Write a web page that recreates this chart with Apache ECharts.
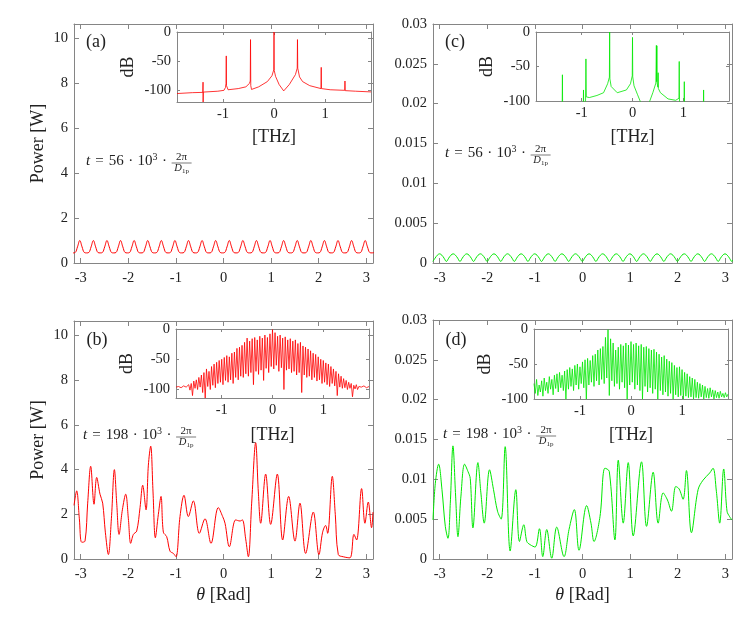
<!DOCTYPE html>
<html><head><meta charset="utf-8">
<script src="https://cdn.jsdelivr.net/npm/echarts@6/dist/echarts.min.js"></script>
<style>html,body{margin:0;padding:0;background:#fff}#c{width:747px;height:629px}</style>
</head><body><div id="c"></div>
<script>
// ---------------- tick labels ----------------
const THETA_TICKS = [-3, -2, -1, 0, 1, 2, 3];
const POWER_TICKS = [0, 2, 4, 6, 8, 10];
const POWER2_TICKS = [0, 0.005, 0.01, 0.015, 0.02, 0.025, 0.03];
const THZ_TICKS = [-1, 0, 1];
const DB_TICKS = [-100, -50, 0];

// ---------------- panel (a): power vs theta (sampled from theta = -3.163, step 0.0476) ----------------
const thetaStartA = -3.163, thetaStepA = 0.0476;
const powerA = [
0.45,0.47,0.72,1.00,0.72,0.47, 0.45,0.47,0.72,1.00,0.72,0.47, 0.45,0.47,0.72,1.00,0.72,0.47,
0.45,0.47,0.72,1.00,0.72,0.47, 0.45,0.47,0.72,1.00,0.72,0.47, 0.45,0.47,0.72,1.00,0.72,0.47,
0.45,0.47,0.72,1.00,0.72,0.47, 0.45,0.47,0.72,1.00,0.72,0.47, 0.45,0.47,0.72,1.00,0.72,0.47,
0.45,0.47,0.72,1.00,0.72,0.47, 0.45,0.47,0.72,1.00,0.72,0.47, 0.45,0.47,0.72,1.00,0.72,0.47,
0.45,0.47,0.72,1.00,0.72,0.47, 0.45,0.47,0.72,1.00,0.72,0.47, 0.45,0.47,0.72,1.00,0.72,0.47,
0.45,0.47,0.72,1.00,0.72,0.47, 0.45,0.47,0.72,1.00,0.72,0.47, 0.45,0.47,0.72,1.00,0.72,0.47,
0.45,0.47,0.72,1.00,0.72,0.47, 0.45,0.47,0.72,1.00,0.72,0.47, 0.45,0.47,0.72,1.00,0.72,0.47,
0.45,0.47,0.72,1.00,0.72,0.47, 0.45,0.47];

// ---------------- panel (c): power vs theta (sampled from theta = -3.146, step 0.0476) ----------------
const thetaStartC = -3.146, thetaStepC = 0.0476;
const powerC = [
0.0002,0.0006,0.00098,0.00115,0.00098,0.0006, 0.0002,0.0006,0.00098,0.00115,0.00098,0.0006,
0.0002,0.0006,0.00098,0.00115,0.00098,0.0006, 0.0002,0.0006,0.00098,0.00115,0.00098,0.0006,
0.0002,0.0006,0.00098,0.00115,0.00098,0.0006, 0.0002,0.0006,0.00098,0.00115,0.00098,0.0006,
0.0002,0.0006,0.00098,0.00115,0.00098,0.0006, 0.0002,0.0006,0.00098,0.00115,0.00098,0.0006,
0.0002,0.0006,0.00098,0.00115,0.00098,0.0006, 0.0002,0.0006,0.00098,0.00115,0.00098,0.0006,
0.0002,0.0006,0.00098,0.00115,0.00098,0.0006, 0.0002,0.0006,0.00098,0.00115,0.00098,0.0006,
0.0002,0.0006,0.00098,0.00115,0.00098,0.0006, 0.0002,0.0006,0.00098,0.00115,0.00098,0.0006,
0.0002,0.0006,0.00098,0.00115,0.00098,0.0006, 0.0002,0.0006,0.00098,0.00115,0.00098,0.0006,
0.0002,0.0006,0.00098,0.00115,0.00098,0.0006, 0.0002,0.0006,0.00098,0.00115,0.00098,0.0006,
0.0002,0.0006,0.00098,0.00115,0.00098,0.0006, 0.0002,0.0006,0.00098,0.00115,0.00098,0.0006,
0.0002,0.0006,0.00098,0.00115,0.00098,0.0006, 0.0002,0.0006,0.00098,0.00115,0.00098,0.0006,
0.0002,0.0006];

// ---------------- panel (b): [theta, power W] ----------------
const powerB = [[-3.1416,2.4],[-3.085,3.05],[-3.029,1.8],[-2.98,0.75],[-2.91,0.8],[-2.854,2.5],[-2.791,4.15],[-2.721,2.45],[-2.665,3.65],[-2.595,2.9],[-2.539,2.5],[-2.483,1.2],[-2.419,0.2],[-2.356,1.8],[-2.293,4.0],[-2.244,2.5],[-2.195,1.1],[-2.125,2.2],[-2.055,2.9],[-1.999,1.8],[-1.95,0.7],[-1.894,1.1],[-1.824,1.25],[-1.754,2.3],[-1.698,3.3],[-1.628,2.2],[-1.579,4.2],[-1.53,5.05],[-1.481,3.0],[-1.432,0.95],[-1.369,2.0],[-1.313,2.8],[-1.264,1.2],[-1.194,1.0],[-1.124,0.35],[-1.054,0.25],[-0.998,0.1],[-0.914,1.9],[-0.83,2.85],[-0.739,1.9],[-0.634,2.6],[-0.508,1.15],[-0.389,1.8],[-0.263,0.7],[-0.109,2.3],[-0.018,1.9],[0.032,1.6],[0.123,0.55],[0.256,1.75],[0.347,1.7],[0.396,1.75],[0.466,0.9],[0.522,0.1],[0.592,2.5],[0.676,5.2],[0.732,3.0],[0.781,1.6],[0.886,3.8],[0.991,1.55],[1.131,3.8],[1.243,0.85],[1.369,2.8],[1.502,0.8],[1.607,2.5],[1.726,0.25],[1.887,2.1],[2.006,0.2],[2.083,1.2],[2.146,1.5],[2.188,1.15],[2.286,3.7],[2.349,2.0],[2.412,0.2],[2.517,0.1],[2.657,0.05],[2.741,1.1],[2.797,0.85],[2.902,3.15],[2.972,1.6],[3.042,2.55],[3.112,1.4],[3.1416,2.1]];

// ---------------- panel (d): [theta, power W] ----------------
const powerD = [[-3.1416,0.0049],[-3.0927,0.0095],[-3.0228,0.0119],[-2.9529,0.0087],[-2.883,0.0041],[-2.8271,0.0026],[-2.7782,0.007],[-2.7223,0.0142],[-2.6663,0.0079],[-2.6174,0.0028],[-2.5545,0.0079],[-2.4776,0.0119],[-2.4078,0.011],[-2.3588,0.0101],[-2.3029,0.0039],[-2.1981,0.0121],[-2.1352,0.0083],[-2.0653,0.0045],[-1.9535,0.0112],[-1.8696,0.0087],[-1.7857,0.006],[-1.7089,0.005],[-1.625,0.0141],[-1.5202,0.001],[-1.4013,0.0087],[-1.3245,0.0022],[-1.2336,0.0043],[-1.1707,0.0022],[-1.1008,0.0018],[-0.996,0.0015],[-0.9051,0.0038],[-0.8352,0.0003],[-0.7514,0.0037],[-0.6465,0.0001],[-0.5417,0.004],[-0.3879,0.0003],[-0.2831,0.0037],[-0.1713,0.0062],[-0.0734,0.0011],[0.0873,0.0067],[0.1782,0.0045],[0.2411,0.0022],[0.3669,0.0053],[0.4717,0.0114],[0.5626,0.011],[0.6814,0.0024],[0.7513,0.0124],[0.8561,0.0045],[0.9609,0.0121],[1.0658,0.0029],[1.2405,0.0122],[1.3453,0.0041],[1.4851,0.0109],[1.59,0.0045],[1.6948,0.0083],[1.7856,0.0074],[1.8695,0.006],[1.9604,0.0091],[2.0303,0.0088],[2.1141,0.0075],[2.184,0.0111],[2.2889,0.0033],[2.4286,0.0087],[2.5335,0.0099],[2.673,0.0108],[2.743,0.0114],[2.813,0.0085],[2.883,0.0045],[2.967,0.0113],[3.037,0.006],[3.093,0.0053],[3.1416,0.0049]];

// ---------------- inset (a): spectrum [THz, dB] ----------------
const specA = [[-1.9,-105.5],[-1.6,-104],[-1.395,-103.5],[-1.39,-86],[-1.388,-120],[-1.385,-103],[-1.1,-101.5],[-0.98,-100],[-0.95,-95],[-0.94,-88],[-0.935,-41],[-0.93,-92],[-0.9,-99],[-0.7,-97],[-0.55,-94],[-0.48,-88],[-0.465,-84],[-0.46,-13],[-0.455,-92],[-0.44,-98.5],[-0.3,-94],[-0.13,-85],[-0.04,-75],[-0.005,-65],[0,0],[0.005,-66],[0.03,-76],[0.1,-90],[0.19,-101],[0.3,-90],[0.42,-73],[0.455,-62],[0.46,-13],[0.465,-62],[0.5,-77],[0.56,-85],[0.7,-92],[0.92,-97],[0.925,-60.6],[0.93,-97],[1.1,-99],[1.385,-100],[1.39,-84],[1.395,-100.5],[1.6,-101.5],[1.9,-102.7]];

// ---------------- inset (c): spectrum [THz, dB] ----------------
const specC = [[-1.9,-115],[-1.385,-115],[-1.38,-62],[-1.375,-115],[-0.97,-115],[-0.965,-84],[-0.96,-110],[-0.925,-105],[-0.917,-39],[-0.91,-94],[-0.85,-95],[-0.7,-92],[-0.57,-88],[-0.49,-75],[-0.455,-65.5],[-0.45,0],[-0.445,-68],[-0.42,-79],[-0.3,-88],[-0.12,-84],[-0.04,-75],[-0.005,-63.6],[0,-7.8],[0.005,-65],[0.03,-78],[0.1,-91],[0.15,-100],[0.25,-112],[0.33,-102],[0.4,-88],[0.46,-74],[0.47,-19.4],[0.475,-72],[0.48,-20],[0.485,-74],[0.5,-80],[0.505,-59],[0.51,-82],[0.55,-88],[0.7,-97],[0.85,-99],[0.915,-96],[0.92,-42.7],[0.925,-100],[0.94,-115],[1.015,-115],[1.02,-72],[1.025,-115],[1.395,-115],[1.4,-84],[1.405,-115],[1.9,-115]];

// ---------------- insets (b),(d): comb line tops at THz = -1.9 + 0.05 i, troughs at -1.875 + 0.05 i ----------------
const combTopStart = -1.9, combBotStart = -1.875, combStep = 0.05;
const specBTop = [-96,-95,-97,-94,-96,-92,-90,-86,-84,-80,-76,-72,-66,-70,-62,-58,-55,-52,-50,-47,-44,-46,-40,-38,-32,-30,-27,-22,-15,-20,-16,-14,-18,-12,-15,-10,-14,-8,-1,-6,-12,-10,-15,-13,-18,-16,-20,-18,-24,-22,-28,-30,-33,-36,-40,-42,-46,-50,-52,-56,-58,-62,-66,-70,-74,-78,-82,-85,-88,-90,-93,-92,-95,-96,-94,-97,-95];
const specBBot = [-99,-98,-100,-97,-99,-101,-110,-98,-100,-96,-105,-114,-95,-100,-93,-97,-90,-88,-92,-85,-88,-84,-90,-80,-84,-78,-80,-74,-78,-72,-92,-70,-75,-68,-85,-65,-72,-62,-66,-60,-70,-64,-100,-68,-66,-72,-70,-76,-72,-105,-76,-80,-78,-84,-80,-86,-84,-90,-88,-92,-95,-90,-94,-110,-96,-98,-97,-100,-98,-112,-99,-100,-97,-99,-96,-98];
const specDTop = [-78,-72,-80,-74,-70,-76,-68,-72,-66,-64,-62,-66,-60,-58,-55,-57,-52,-50,-54,-47,-44,-42,-45,-38,-36,-30,-28,-25,-12,-1,-14,-20,-30,-26,-22,-24,-20,-23,-18,-22,-20,-24,-22,-26,-25,-28,-30,-29,-33,-36,-40,-38,-43,-46,-48,-52,-55,-54,-58,-62,-64,-68,-70,-72,-76,-78,-80,-82,-85,-84,-87,-88,-90,-89,-92,-91,-93];
const specDBot = [-92,-95,-90,-96,-88,-92,-86,-94,-85,-90,-84,-88,-100,-86,-82,-88,-80,-86,-78,-84,-100,-80,-76,-82,-74,-80,-72,-78,-70,-95,-74,-82,-78,-86,-76,-84,-100,-80,-76,-86,-80,-88,-100,-82,-90,-84,-92,-86,-100,-88,-94,-90,-96,-92,-100,-94,-97,-95,-100,-96,-98,-97,-100,-98,-99,-97,-100,-98,-99,-97,-100,-98,-99,-97,-98,-97];

// ---------------- build ----------------
const FONTNAME = 'Liberation Serif';
const FONT = "'Liberation Serif', 'DejaVu Serif', serif";
const AX = '#858585', TXT = '#222222';
const RED = '#ff0000', GREEN = '#00e800';
const TICK_FS = 14.5, NAME_FS = 18;

function fromStep(vals, start, step) { return vals.map((v, i) => [start + i * step, v]); }
function comb(top, bot) {
  const out = [];
  for (let i = 0; i < top.length; i++) {
    out.push([combTopStart + i * combStep, top[i]]);
    if (i < bot.length) out.push([combBotStart + i * combStep, bot[i]]);
  }
  return out;
}

const grids = [], xAxes = [], yAxes = [], series = [];
const nameStyle = { fontFamily: FONT, fontSize: NAME_FS, color: TXT, rich: { i: { fontStyle: 'italic', fontFamily: FONT, fontSize: NAME_FS, color: TXT } } };

function axis(gi, pos, c, showLab, tickLen) {
  const a = {
    type: 'value', gridIndex: gi, position: pos, min: c.min, max: c.max,
    axisLine: { show: true, onZero: false, lineStyle: { color: AX, width: 1 } },
    axisTick: { show: true, inside: true, length: tickLen, customValues: c.ticks, lineStyle: { color: AX, width: 1 } },
    axisLabel: { show: showLab, customValues: c.ticks, color: TXT, fontFamily: FONT, fontSize: TICK_FS, margin: c.margin, formatter: v => String(v) },
    splitLine: { show: false }
  };
  if (showLab && c.name) {
    a.name = c.name; a.nameLocation = 'middle'; a.nameGap = c.nameGap; a.nameTextStyle = nameStyle;
  }
  return a;
}

function addPlot(rect, xc, yc, inset, data, color, smooth) {
  const gi = grids.length;
  grids.push({ left: rect[0], top: rect[1], width: rect[2], height: rect[3], show: inset, backgroundColor: '#fff', borderWidth: 0 });
  const tl = inset ? 3 : 5;
  const xi = xAxes.length; xAxes.push(axis(gi, 'bottom', xc, true, tl)); xAxes.push(axis(gi, 'top', xc, false, tl));
  const yi = yAxes.length; yAxes.push(axis(gi, 'left', yc, true, tl)); yAxes.push(axis(gi, 'right', yc, false, tl));
  series.push({ type: 'line', xAxisIndex: xi, yAxisIndex: yi, data: data, showSymbol: false, symbol: 'none',
    smooth: smooth, lineStyle: { color: color, width: inset ? 0.8 : 1 }, itemStyle: { color: color }, silent: true, animation: false, z: inset ? 4 : 2 });
}

const thetaX = (name) => ({ min: -Math.PI, max: Math.PI, ticks: THETA_TICKS, margin: 8, name: name, nameGap: 27 });
const thzX = (gap) => ({ min: -1.9, max: 1.9, ticks: THZ_TICKS, margin: 5, name: '[THz]', nameGap: gap });

// main panels
addPlot([74, 24, 299, 239], thetaX(null), { min: 0, max: 10.65, ticks: POWER_TICKS, margin: 6, name: 'Power [W]', nameGap: 27 }, false, fromStep(powerA, thetaStartA, thetaStepA), RED, 0.4);
addPlot([74, 321, 299, 238], thetaX('{i|θ} [Rad]'), { min: 0, max: 10.65, ticks: POWER_TICKS, margin: 6, name: 'Power [W]', nameGap: 27 }, false, powerB, RED, 0.35);
addPlot([433, 24, 299, 239], thetaX(null), { min: 0, max: 0.03, ticks: POWER2_TICKS, margin: 6 }, false, fromStep(powerC, thetaStartC, thetaStepC), GREEN, 0.4);
addPlot([433, 320, 299, 239], thetaX('{i|θ} [Rad]'), { min: 0, max: 0.03, ticks: POWER2_TICKS, margin: 6 }, false, powerD, GREEN, 0.35);
// insets
addPlot([177, 32, 194, 70], thzX(26), { min: -120, max: 0, ticks: DB_TICKS, margin: 6, name: 'dB', nameGap: 40 }, true, specA, RED, false);
addPlot([176, 329, 193, 69], thzX(28), { min: -114, max: 0, ticks: DB_TICKS, margin: 6, name: 'dB', nameGap: 40 }, true, comb(specBTop, specBBot), RED, false);
addPlot([536, 32, 193, 69], thzX(27), { min: -100, max: 0, ticks: DB_TICKS, margin: 6, name: 'dB', nameGap: 40 }, true, specC, GREEN, false);
addPlot([534, 329, 194, 70], thzX(27), { min: -100, max: 0, ticks: DB_TICKS, margin: 6, name: 'dB', nameGap: 40 }, true, comb(specDTop, specDBot), GREEN, false);

// annotations
const cv = document.createElement('canvas').getContext('2d');
function tw(s, f) { cv.font = f; return cv.measureText(s).width; }
function eq(x, y, num) {
  const F = 15, PE = 5, PD = 4.5;
  const fn = `${F}px ${FONTNAME}`;
  const w = tw('t', `italic ${fn}`) + tw('=', fn) + 2 * PE + tw(num, fn) + 2 * (tw('·', fn) + 2 * PD) + tw('10', fn) + tw('3', `10px ${FONTNAME}`);
  const fx = x + w + 10;
  return [
    { type: 'text', x: x, y: y, z: 100, style: { text: `{i|t}{e|=}${num}{d|·}10{s|3}{d|·}`, fontSize: F, fontFamily: FONT, fill: TXT, lineHeight: 17, align: 'left', verticalAlign: 'middle',
      rich: { i: { fontStyle: 'italic', fontSize: F, fontFamily: FONT, lineHeight: 17 },
              e: { fontSize: F, fontFamily: FONT, lineHeight: 17, padding: [0, PE, 0, PE] },
              d: { fontSize: F, fontFamily: FONT, lineHeight: 17, padding: [0, PD, 0, PD] },
              s: { fontSize: 10, fontFamily: FONT, verticalAlign: 'top', lineHeight: 10 } } } },
    { type: 'text', x: fx, y: y - 3.5, z: 100, style: { text: '2π', fontSize: 11, fontFamily: FONT, fill: TXT, align: 'center', verticalAlign: 'middle' } },
    { type: 'line', z: 100, shape: { x1: fx - 10, y1: y + 2, x2: fx + 10, y2: y + 2 }, style: { stroke: TXT, lineWidth: 0.6 } },
    { type: 'text', x: fx, y: y + 7.5, z: 100, style: { text: '{d|D}{b|1p}', fill: TXT, align: 'center', verticalAlign: 'middle', fontSize: 10, fontFamily: FONT,
      rich: { d: { fontStyle: 'italic', fontSize: 10.5, fontFamily: FONT, lineHeight: 12 }, b: { fontSize: 7, fontFamily: FONT, verticalAlign: 'bottom', lineHeight: 8 } } } }
  ];
}
function lab(x, y, t) {
  return { type: 'text', x: x, y: y, z: 100, style: { text: t, fontSize: 18, fontFamily: FONT, fill: TXT, align: 'center', verticalAlign: 'middle' } };
}
const graphics = [].concat(
  [lab(96, 42, '(a)'), lab(97, 340, '(b)'), lab(455, 42, '(c)'), lab(456, 340, '(d)')],
  eq(86, 161, '56'), eq(445, 153, '56'), eq(83, 435, '198'), eq(443, 434, '198')
);

const chart = echarts.init(document.getElementById('c'), null, { renderer: 'canvas' });
chart.setOption({
  animation: false,
  backgroundColor: '#fff',
  grid: grids, xAxis: xAxes, yAxis: yAxes, series: series,
  graphic: { elements: graphics }
});
</script></body></html>
